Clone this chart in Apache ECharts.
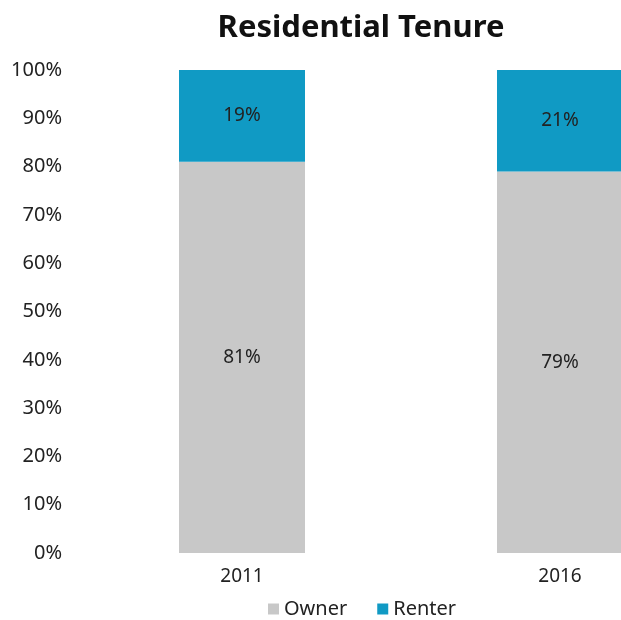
<!DOCTYPE html>
<html>
<head>
    <meta charset="UTF-8">
    <title>Residential Tenure</title>
    <script src="https://cdn.jsdelivr.net/npm/echarts/dist/echarts.min.js"></script>
    <style>
        body { margin: 0; background: #fff; }
        #main { width: 621px; height: 620px; }
    </style>
</head>
<body>
    <div id="main"></div>
    <script>
        var years = ['2011', '2016'];
        var owner = [81, 79];
        var renter = [19, 21];

        var myChart = echarts.init(document.getElementById('main'));
        var font = "'Noto Sans', sans-serif";

        var option = {
            backgroundColor: '#fff',
            animation: false,
            title: {
                text: 'Residential Tenure',
                left: 356,
                top: 8,
                textAlign: 'center',
                textStyle: { fontFamily: font, fontSize: 31, fontWeight: 'bold', color: '#111' }
            },
            legend: {
                data: ['Owner', 'Renter'],
                left: 263,
                top: 594,
                itemWidth: 11,
                itemHeight: 11,
                itemGap: 30,
                icon: 'rect',
                textStyle: { fontFamily: font, fontSize: 20, color: '#222' }
            },
            grid: { left: 83, width: 636, top: 70, bottom: 67, containLabel: false, outerBoundsMode: 'none' },
            xAxis: {
                type: 'category',
                data: years,
                axisLine: { show: false },
                axisTick: { show: false },
                axisLabel: { margin: 14, fontFamily: font, fontSize: 19, color: '#222' }
            },
            yAxis: {
                type: 'value',
                min: 0,
                max: 100,
                interval: 10,
                splitLine: { show: false },
                axisLabel: { formatter: '{value}%', margin: 21, fontFamily: font, fontSize: 20, color: '#222' }
            },
            series: [
                {
                    name: 'Owner',
                    type: 'bar',
                    stack: 'total',
                    barWidth: 126,
                    data: owner,
                    itemStyle: { color: '#c8c8c8' },
                    label: { show: true, position: 'inside', formatter: '{c}%', fontFamily: font, fontSize: 19, color: '#222' }
                },
                {
                    name: 'Renter',
                    type: 'bar',
                    stack: 'total',
                    barWidth: 126,
                    data: renter,
                    itemStyle: { color: '#109ac4' },
                    label: { show: true, position: 'inside', formatter: '{c}%', fontFamily: font, fontSize: 19, color: '#222' }
                }
            ]
        };

        myChart.setOption(option);
    </script>
</body>
</html>
